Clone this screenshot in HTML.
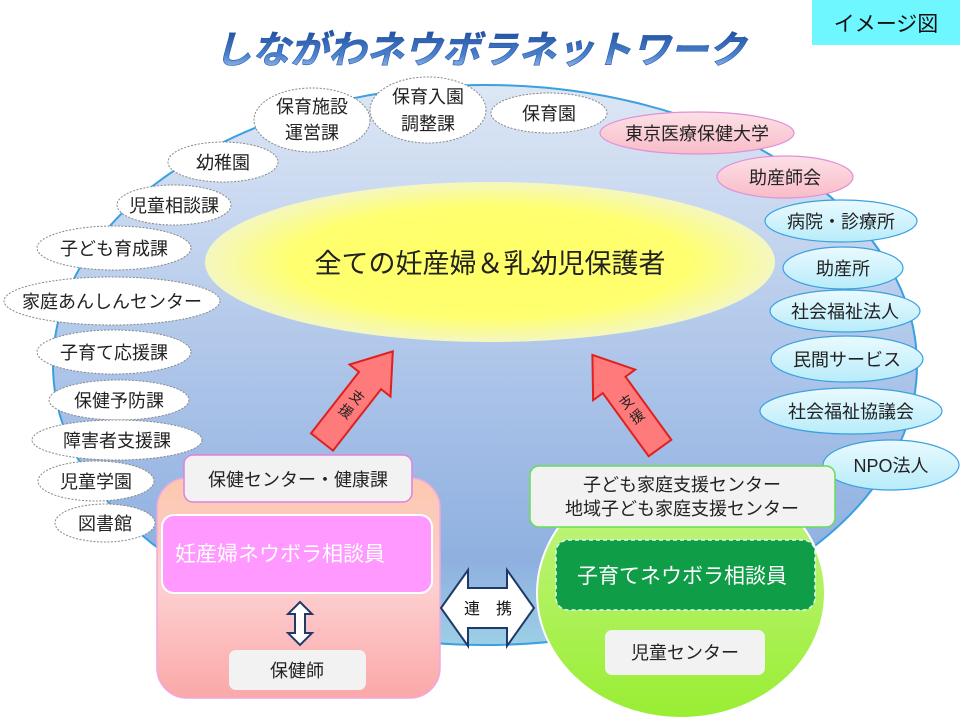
<!DOCTYPE html>
<html><head><meta charset="utf-8"><style>
html,body{margin:0;padding:0;background:#fff;}
svg{display:block;}
text{font-family:"Liberation Sans","Noto Sans CJK JP",sans-serif;}
</style></head><body>
<svg width="960" height="720" viewBox="0 0 960 720" xmlns="http://www.w3.org/2000/svg">
<defs>
<linearGradient id="bg" x1="0" y1="0" x2="0" y2="1">
<stop offset="0" stop-color="#dde7f5"/><stop offset="0.55" stop-color="#a9c2e8"/><stop offset="0.85" stop-color="#8fb0e0"/><stop offset="1" stop-color="#9ccfe6"/></linearGradient>
<radialGradient id="yel" cx="0.5" cy="0.5" r="0.5"><stop offset="0" stop-color="#ffff66"/><stop offset="0.7" stop-color="#ffff70"/><stop offset="1" stop-color="#f4f7c0"/></radialGradient>
<linearGradient id="ttl" x1="0" y1="0" x2="0" y2="1"><stop offset="0" stop-color="#1f4e9c"/><stop offset="0.6" stop-color="#4a82d0"/><stop offset="1" stop-color="#a8c8f0"/></linearGradient>
<linearGradient id="cy" x1="0" y1="0" x2="0" y2="1"><stop offset="0" stop-color="#eafaff"/><stop offset="1" stop-color="#b8ecfa"/></linearGradient>
<linearGradient id="pk" x1="0" y1="0" x2="0" y2="1"><stop offset="0" stop-color="#fde0e6"/><stop offset="1" stop-color="#f8bcc8"/></linearGradient>
<linearGradient id="peach" x1="0" y1="0" x2="0" y2="1"><stop offset="0" stop-color="#fcc8ae"/><stop offset="0.5" stop-color="#fdcfd0"/><stop offset="1" stop-color="#fba8a8"/></linearGradient>
<linearGradient id="grn" x1="0" y1="0" x2="0" y2="1"><stop offset="0" stop-color="#c6f589"/><stop offset="1" stop-color="#99ee33"/></linearGradient>
</defs>
<rect x="812" y="0" width="148" height="45" fill="#6ff7ff"/>
<text x="886" y="31" font-size="21" text-anchor="middle" fill="#111">イメージ図</text>
<text x="480" y="63" font-size="38" font-weight="bold" font-style="italic" text-anchor="middle" fill="url(#ttl)" stroke="#2a5aa8" stroke-width="0.6">しながわネウボラネットワーク</text>

<ellipse cx="485" cy="365" rx="432" ry="280" fill="url(#bg)" stroke="#3aa0e0" stroke-width="2"/>
<ellipse cx="490" cy="262" rx="285" ry="80" fill="url(#yel)"/>
<text x="490" y="273" font-size="27" text-anchor="middle" fill="#222">全ての妊産婦＆乳幼児保護者</text>

<g fill="#fff" stroke="#888" stroke-width="1" stroke-dasharray="2,1.5" font-size="18">
<ellipse cx="312" cy="120" rx="58" ry="32"/><ellipse cx="428" cy="110" rx="58" ry="33"/><ellipse cx="549" cy="113" rx="58" ry="20"/>
<ellipse cx="223" cy="162" rx="55" ry="20"/><ellipse cx="174" cy="205" rx="57" ry="20"/><ellipse cx="114" cy="248" rx="77" ry="22"/>
<ellipse cx="112" cy="301" rx="108" ry="24"/><ellipse cx="114" cy="352" rx="77" ry="22"/><ellipse cx="119" cy="400" rx="70" ry="20"/>
<ellipse cx="117" cy="440" rx="85" ry="20"/><ellipse cx="96" cy="481" rx="58" ry="20"/><ellipse cx="105" cy="523" rx="50" ry="19"/>
</g>
<g fill="#222" font-size="18" text-anchor="middle">
<text x="312" y="113">保育施設</text><text x="312" y="139">運営課</text>
<text x="428" y="103">保育入園</text><text x="428" y="130">調整課</text>
<text x="549" y="120">保育園</text>
<text x="223" y="169">幼稚園</text><text x="174" y="212">児童相談課</text><text x="114" y="255">子ども育成課</text>
<text x="112" y="308">家庭あんしんセンター</text><text x="114" y="359">子育て応援課</text><text x="119" y="407">保健予防課</text>
<text x="117" y="447">障害者支援課</text><text x="96" y="488">児童学園</text><text x="105" y="530">図書館</text>
</g>
<g stroke-width="1.2" font-size="18">
<ellipse cx="697" cy="133" rx="97" ry="21" fill="url(#pk)" stroke="#e090d8"/>
<ellipse cx="785" cy="177" rx="68" ry="21" fill="url(#pk)" stroke="#e090d8"/>
<g fill="url(#cy)" stroke="#3aa0e0">
<ellipse cx="841" cy="221" rx="76" ry="21"/><ellipse cx="843" cy="268" rx="60" ry="21"/><ellipse cx="845" cy="311" rx="75" ry="21"/>
<ellipse cx="847" cy="359" rx="76" ry="23"/><ellipse cx="851" cy="411" rx="91" ry="23"/><ellipse cx="891" cy="465" rx="68" ry="25"/>
</g></g>
<g fill="#222" font-size="18" text-anchor="middle">
<text x="697" y="140">東京医療保健大学</text><text x="785" y="184">助産師会</text><text x="841" y="228">病院・診療所</text>
<text x="843" y="275">助産所</text><text x="845" y="318">社会福祉法人</text><text x="847" y="366">民間サービス</text>
<text x="851" y="418">社会福祉協議会</text><text x="891" y="472">NPO法人</text>
</g>

<g transform="translate(322,442) rotate(38)" >
<polygon points="-14,0 14,0 14,-78 26,-78 0,-115 -26,-78 -14,-78" fill="#ff7a7a" stroke="#e02020" stroke-width="2"/>
<text x="0" y="-52" font-size="14" text-anchor="middle" fill="#222">支</text>
<text x="0" y="-34" font-size="14" text-anchor="middle" fill="#222">援</text>
</g>
<g transform="translate(660,448) rotate(-36)">
<polygon points="-14,0 14,0 14,-78 26,-78 0,-115 -26,-78 -14,-78" fill="#ff7a7a" stroke="#e02020" stroke-width="2"/>
<text x="0" y="-52" font-size="14" text-anchor="middle" fill="#222">支</text>
<text x="0" y="-34" font-size="14" text-anchor="middle" fill="#222">援</text>
</g>

<rect x="157" y="478" width="283" height="220" rx="30" fill="url(#peach)" stroke="#f0a8e0" stroke-width="1.5"/>
<rect x="184" y="455" width="228" height="47" rx="9" fill="#f2f2f2" stroke="#e080e0" stroke-width="1.5"/>
<text x="298" y="486" font-size="18" text-anchor="middle" fill="#222">保健センター・健康課</text>
<rect x="162" y="515" width="270" height="78" rx="12" fill="#ff99ff" stroke="#fff" stroke-width="2"/>
<text x="175" y="561" font-size="21" fill="#fff">妊産婦ネウボラ相談員</text>
<polygon points="300,602 312,614 305,614 305,633 312,633 300,645 288,633 295,633 295,614 288,614" fill="#fff" stroke="#1f3a68" stroke-width="2"/>
<rect x="229" y="650" width="137" height="40" rx="7" fill="#f2f2f2"/>
<text x="297" y="677" font-size="18" text-anchor="middle" fill="#222">保健師</text>

<polygon points="441,608 468,570 468,588 507,588 507,570 534,608 507,646 507,628 468,628 468,646" fill="#fff" stroke="#1f3a68" stroke-width="2"/>
<text x="488" y="614" font-size="16" text-anchor="middle" fill="#111">連　携</text>

<ellipse cx="681" cy="593" rx="144" ry="125" fill="url(#grn)" stroke="#fff" stroke-width="2"/>
<rect x="530" y="466" width="305" height="61" rx="9" fill="#f2f2f2" stroke="#66dd55" stroke-width="1.5"/>
<text x="682" y="491" font-size="18" text-anchor="middle" fill="#222">子ども家庭支援センター</text>
<text x="682" y="515" font-size="18" text-anchor="middle" fill="#222">地域子ども家庭支援センター</text>
<rect x="556" y="540" width="259" height="70" rx="12" fill="#0f9d48" stroke="#dff" stroke-width="1.5" stroke-dasharray="4,3"/>
<text x="682" y="583" font-size="21" text-anchor="middle" fill="#fff">子育てネウボラ相談員</text>
<rect x="605" y="630" width="160" height="45" rx="7" fill="#f2f2f2"/>
<text x="685" y="659" font-size="18" text-anchor="middle" fill="#222">児童センター</text>
</svg>
</body></html>
